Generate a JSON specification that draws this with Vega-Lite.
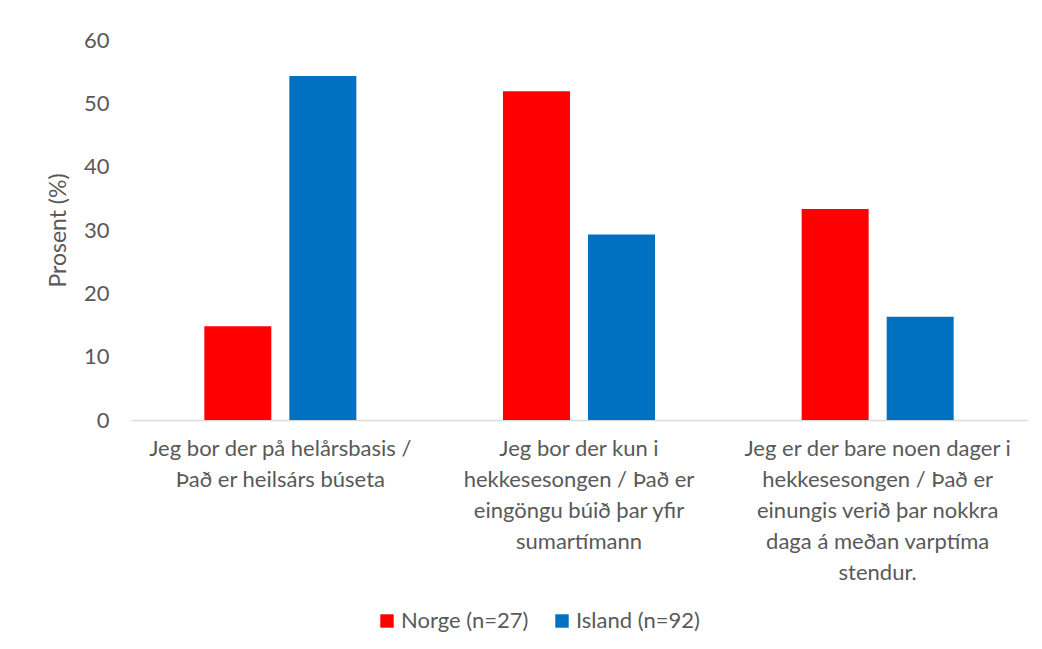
{
  "$schema": "https://vega.github.io/schema/vega-lite/v6.json",
  "width": 896,
  "height": 380,
  "autosize": {"type": "none"},
  "padding": {"left": 131, "top": 40, "right": 15, "bottom": 229},
  "background": "white",
  "config": {
    "view": {"stroke": null},
    "font": "Lato",
    "axis": {"labelFont": "Lato", "titleFont": "Lato"},
    "legend": {"labelFont": "Lato"}
  },
  "data": {
    "values": [
      {"kategori": "Jeg bor der på helårsbasis /|Það er heilsárs búseta", "land": "Norge (n=27)", "prosent": 14.8},
      {"kategori": "Jeg bor der på helårsbasis /|Það er heilsárs búseta", "land": "Island (n=92)", "prosent": 54.3},
      {"kategori": "Jeg bor der kun i|hekkesesongen / Það er|eingöngu búið þar yfir|sumartímann", "land": "Norge (n=27)", "prosent": 51.9},
      {"kategori": "Jeg bor der kun i|hekkesesongen / Það er|eingöngu búið þar yfir|sumartímann", "land": "Island (n=92)", "prosent": 29.3},
      {"kategori": "Jeg er der bare noen dager i|hekkesesongen / Það er|einungis verið þar nokkra|daga á meðan varptíma|stendur.", "land": "Norge (n=27)", "prosent": 33.3},
      {"kategori": "Jeg er der bare noen dager i|hekkesesongen / Það er|einungis verið þar nokkra|daga á meðan varptíma|stendur.", "land": "Island (n=92)", "prosent": 16.3}
    ]
  },
  "mark": {"type": "bar"},
  "encoding": {
    "x": {
      "field": "kategori",
      "type": "nominal",
      "sort": null,
      "scale": {"paddingInner": 0.491, "paddingOuter": 0.2455},
      "axis": {
        "title": null,
        "labelAngle": 0,
        "labelExpr": "split(datum.label, '|')",
        "labelLimit": 0,
        "labelFontSize": 22,
        "labelColor": "#595959",
        "labelLineHeight": 31,
        "labelPadding": 18,
        "labelBaseline": "top",
        "ticks": false,
        "domainColor": "#d9d9d9",
        "domainWidth": 1.5
      }
    },
    "xOffset": {
      "field": "land",
      "sort": null,
      "scale": {"paddingInner": 0.212, "paddingOuter": 0}
    },
    "y": {
      "field": "prosent",
      "type": "quantitative",
      "scale": {"domain": [0, 60], "nice": false},
      "axis": {
        "values": [0, 10, 20, 30, 40, 50, 60],
        "grid": false,
        "domain": false,
        "ticks": false,
        "title": "Prosent (%)",
        "titleFontSize": 23,
        "titleFontWeight": "normal",
        "titleColor": "#595959",
        "titlePadding": 13,
        "labelFontSize": 22,
        "labelColor": "#595959",
        "labelPadding": 22
      }
    },
    "color": {
      "field": "land",
      "type": "nominal",
      "sort": null,
      "scale": {"domain": ["Norge (n=27)", "Island (n=92)"], "range": ["#FF0000", "#0070C0"]},
      "legend": {
        "orient": "none",
        "legendX": 245,
        "legendY": 570,
        "direction": "horizontal",
        "title": null,
        "symbolType": "square",
        "symbolSize": 180,
        "symbolStrokeWidth": 0,
        "labelFontSize": 22,
        "labelColor": "#595959",
        "columnPadding": 22,
        "labelOffset": 3
      }
    }
  }
}
